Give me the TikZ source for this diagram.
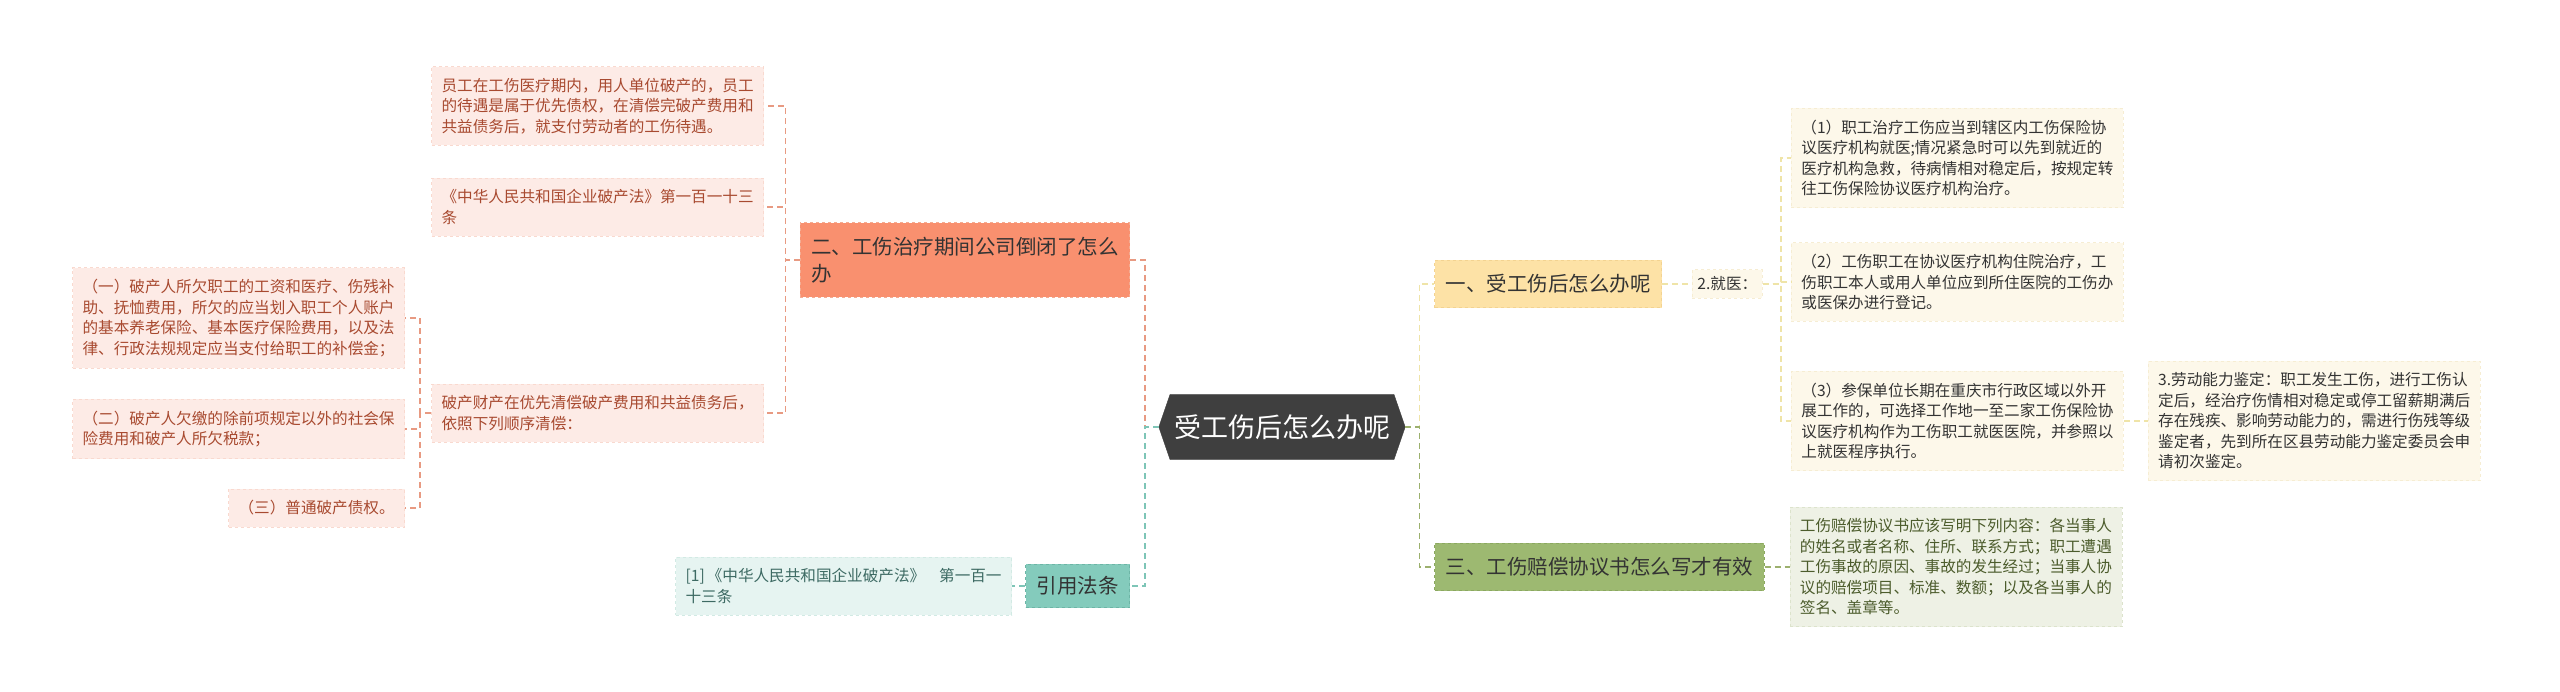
\documentclass[tikz,border=0pt]{standalone}
\usepackage{fontspec}
\setmainfont{Noto Sans CJK SC}
\usepackage{xcolor}
\usepackage{tikz}
\usetikzlibrary{positioning,shapes.symbols}
\definecolor{HubGray}{HTML}{3F3F3F}
\definecolor{SalmonFill}{HTML}{F9906F}
\definecolor{SalmonEdge}{HTML}{F4AC93}
\definecolor{SalmonSoft}{HTML}{FDEBE6}
\definecolor{SalmonSoftEdge}{HTML}{F9D9CF}
\definecolor{SalmonText}{HTML}{A84A30}
\definecolor{SalmonLink}{HTML}{E89A82}
\definecolor{TealFill}{HTML}{84CBBC}
\definecolor{TealEdge}{HTML}{6DB5A6}
\definecolor{TealSoft}{HTML}{E6F4F1}
\definecolor{TealSoftEdge}{HTML}{D2EAE4}
\definecolor{TealText}{HTML}{3D6A63}
\definecolor{TealLink}{HTML}{7EC5B7}
\definecolor{SandFill}{HTML}{FDE2A6}
\definecolor{SandEdge}{HTML}{F3D391}
\definecolor{SandSoft}{HTML}{FDF8EA}
\definecolor{SandSoftEdge}{HTML}{F6EDD3}
\definecolor{SandLink}{HTML}{EFE4A8}
\definecolor{OliveFill}{HTML}{9DB971}
\definecolor{OliveEdge}{HTML}{8BA860}
\definecolor{OliveSoft}{HTML}{EEF1E5}
\definecolor{OliveSoftEdge}{HTML}{DCE3CC}
\definecolor{OliveText}{HTML}{4C5C2C}
\definecolor{OliveLink}{HTML}{9CB06E}
\definecolor{InkDark}{HTML}{333333}

\begin{document}
\begin{tikzpicture}[x=1pt,y=-1pt,node distance=24pt,
  hub/.style={signal,signal to=west and east,signal pointer angle=142,
      fill=HubGray,draw=HubGray,text=white,minimum height=65pt,inner xsep=4pt,
      font=\fontsize{27}{27}\selectfont},
  topic/.style={rectangle,align=left,inner xsep=11pt,inner ysep=14pt,dashed,
      line width=1pt,text=InkDark,font=\fontsize{20.5}{27}\selectfont},
  leaf/.style={rectangle,align=left,inner xsep=10pt,inner ysep=11.5pt,dashed,
      line width=0.8pt,font=\fontsize{15.6}{20.5}\selectfont},
  lnk/.style={draw=#1,line width=1.8pt,dash pattern=on 6pt off 4pt}]
\useasboundingbox (0,0) rectangle (2560,692);

\node[hub] (c) at (1282,427) {受工伤后怎么办呢};

% left half
\node[topic,fill=SalmonFill,draw=SalmonEdge,anchor=east] (q2) at (1130,260)
  {二、工伤治疗期间公司倒闭了怎么\\办};
\node[leaf,fill=SalmonSoft,draw=SalmonSoftEdge,text=SalmonText,anchor=east] (b1) at (764,106)
  {员工在工伤医疗期内，用人单位破产的，员工\\的待遇是属于优先债权，在清偿完破产费用和\\共益债务后，就支付劳动者的工伤待遇。};
\node[leaf,fill=SalmonSoft,draw=SalmonSoftEdge,text=SalmonText,anchor=east] (b2) at (764,207)
  {《中华人民共和国企业破产法》第一百一十三\\条};
\node[leaf,fill=SalmonSoft,draw=SalmonSoftEdge,text=SalmonText,anchor=east] (b3) at (764,413)
  {破产财产在优先清偿破产费用和共益债务后，\\依照下列顺序清偿：};
\node[leaf,fill=SalmonSoft,draw=SalmonSoftEdge,text=SalmonText,anchor=east] (d1) at (405,318)
  {（一）破产人所欠职工的工资和医疗、伤残补\\助、抚恤费用，所欠的应当划入职工个人账户\\的基本养老保险、基本医疗保险费用，以及法\\律、行政法规规定应当支付给职工的补偿金；};
\node[leaf,fill=SalmonSoft,draw=SalmonSoftEdge,text=SalmonText,anchor=east] (d2) at (405,429)
  {（二）破产人欠缴的除前项规定以外的社会保\\险费用和破产人所欠税款；};
\node[leaf,fill=SalmonSoft,draw=SalmonSoftEdge,text=SalmonText,anchor=east] (d3) at (405,508)
  {（三）普通破产债权。};
\node[topic,fill=TealFill,draw=TealEdge,anchor=east,inner ysep=12pt] (law) at (1130,586) {引用法条};
\node[leaf,fill=TealSoft,draw=TealSoftEdge,text=TealText,left=13pt of law] (ref)
  {[1]\hspace{2pt}《中华人民共和国企业破产法》\hspace{14pt}第一百一\\十三条};

% right half
\node[topic,fill=SandFill,draw=SandEdge,anchor=west] (q1) at (1434,284) {一、受工伤后怎么办呢};
\node[leaf,fill=SandSoft,draw=SandSoftEdge,text=InkDark,inner xsep=5pt,inner ysep=7pt,
      right=30pt of q1] (jy) {2.就医：};
\node[leaf,fill=SandSoft,draw=SandSoftEdge,text=InkDark,anchor=west] (m1) at (1791,158)
  {（1）职工治疗工伤应当到辖区内工伤保险协\\议医疗机构就医;情况紧急时可以先到就近的\\医疗机构急救，待病情相对稳定后，按规定转\\往工伤保险协议医疗机构治疗。};
\node[leaf,fill=SandSoft,draw=SandSoftEdge,text=InkDark,anchor=west] (m2) at (1791,282)
  {（2）工伤职工在协议医疗机构住院治疗，工\\伤职工本人或用人单位应到所住医院的工伤办\\或医保办进行登记。};
\node[leaf,fill=SandSoft,draw=SandSoftEdge,text=InkDark,anchor=west] (m3) at (1791,421)
  {（3）参保单位长期在重庆市行政区域以外开\\展工作的，可选择工作地一至二家工伤保险协\\议医疗机构作为工伤职工就医医院，并参照以\\上就医程序执行。};
\node[leaf,fill=SandSoft,draw=SandSoftEdge,text=InkDark,right=24pt of m3] (lab)
  {3.劳动能力鉴定：职工发生工伤，进行工伤认\\定后，经治疗伤情相对稳定或停工留薪期满后\\存在残疾、影响劳动能力的，需进行伤残等级\\鉴定者，先到所在区县劳动能力鉴定委员会申\\请初次鉴定。};
\node[topic,fill=OliveFill,draw=OliveEdge,anchor=west] (q3) at (1434,567) {三、工伤赔偿协议书怎么写才有效};
\node[leaf,fill=OliveSoft,draw=OliveSoftEdge,text=OliveText,right=25pt of q3] (g1)
  {工伤赔偿协议书应该写明下列内容：各当事人\\的姓名或者名称、住所、联系方式；职工遭遇\\工伤事故的原因、事故的发生经过；当事人协\\议的赔偿项目、标准、数额；以及各当事人的\\签名、盖章等。};

% connectors
\draw[lnk=SalmonLink] (c.west) -- ++(-14,0) |- (q2.east);
\draw[lnk=TealLink] (c.west) -- ++(-14,0) |- (law.east);
\draw[lnk=SandLink] (c.east) -- ++(14,0) |- (q1.west);
\draw[lnk=OliveLink] (c.east) -- ++(14,0) |- (q3.west);
\foreach \k in {b1,b2,b3}
  \draw[lnk=SalmonLink] (q2.west) -- ++(-14,0) |- (\k.east);
\foreach \k in {d1,d2,d3}
  \draw[lnk=SalmonLink] (b3.west) -- ++(-11,0) |- (\k.east);
\draw[lnk=TealLink] (law.west) -- (ref.east);
\draw[lnk=SandLink] (q1.east) -- (jy.west);
\foreach \k in {m1,m2,m3}
  \draw[lnk=SandLink] (jy.east) -- ++(18,0) |- (\k.west);
\draw[lnk=SandLink] (m3.east) -- (lab.west);
\draw[lnk=OliveLink] (q3.east) -- (g1.west);
\end{tikzpicture}
\end{document}
